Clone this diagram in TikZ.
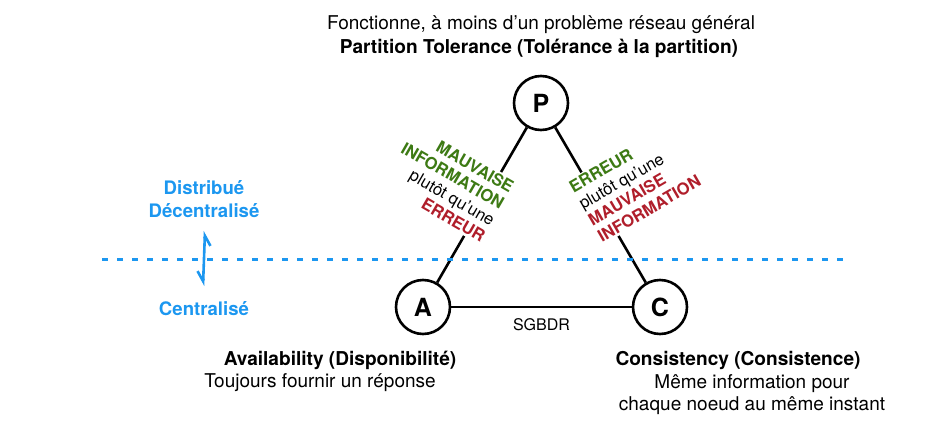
\documentclass[tikz,border=0pt]{standalone}
\usepackage{fontspec}
\setmainfont{TeX Gyre Heros}
\usepackage{xcolor}
\usetikzlibrary{arrows.meta}
\definecolor{SkyBlue}{HTML}{1C97F0}
\definecolor{DarkGreen}{HTML}{3D7A14}
\definecolor{DarkRed}{HTML}{B01E2B}

\begin{document}
\begin{tikzpicture}[x=1pt,y=-1pt,
  vertex/.style={circle,draw,line width=2.6pt,minimum size=54pt,inner sep=0pt,font=\fontsize{25}{25}\selectfont\bfseries},
  edge/.style={line width=2.6pt},
  note/.style={fill=white,inner sep=2pt,font=\fontsize{16.6}{19}\selectfont},
  caption/.style={font=\fontsize{19}{22}\selectfont},
  title/.style={font=\fontsize{19.1}{22}\selectfont\bfseries},
  side/.style={SkyBlue,font=\fontsize{18.6}{23}\selectfont\bfseries}]
  \useasboundingbox (0,0) rectangle (952,439);
  % sommets du triangle CAP
  \node[vertex] (P) at (541,103) {P};
  \node[vertex] (A) at (423,307) {A};
  \node[vertex] (C) at (660,307) {C};
  \draw[edge] (P) -- (A);
  \draw[edge] (P) -- (C);
  \draw[edge] (A) -- (C) node[midway,below=7pt,font=\fontsize{16}{18}\selectfont] (sgbdr) {SGBDR};
  % textes sur les cotes
  \node[note,rotate=-30,anchor=east,align=right] (left note) at (500,214)
    {\textcolor{DarkGreen}{\textbf{MAUVAISE}}\\\textcolor{DarkGreen}{\textbf{INFORMATION}}\\plutôt qu’une\\\textcolor{DarkRed}{\textbf{ERREUR}}};
  \node[note,rotate=30,anchor=west,align=left] (right note) at (583,214)
    {\textcolor{DarkGreen}{\textbf{ERREUR}}\\plutôt qu’une\\\textcolor{DarkRed}{\textbf{MAUVAISE}}\\\textcolor{DarkRed}{\textbf{INFORMATION}}};
  % legendes
  \node[caption] (p text) at (541,25) {Fonctionne, à moins d’un problème réseau général};
  \node[title] (p title) at (539,48) {Partition Tolerance (Tolérance à la partition)};
  \node[title] (a title) at (340,360) {Availability (Disponibilité)};
  \node[caption] (a text) at (320,383) {Toujours fournir un réponse};
  \node[title] (c title) at (738,360) {Consistency (Consistence)};
  \node[caption,align=center] (c text) at (752,395) {Même information pour\\chaque noeud au même instant};
  % frontiere centralise / distribue
  \draw[SkyBlue,line width=3pt,dash pattern=on 6pt off 9pt] (102,259) -- (845,259);
  \node[side,align=center] (dist) at (204,199) {Distribué\\Décentralisé};
  \node[side] (cent) at (204,309) {Centralisé};
  \coordinate (up) at (205,231);
  \coordinate (down) at (203,286);
  \draw[SkyBlue,line width=2.6pt,{Straight Barb[harpoon,swap,length=10pt,width=12pt]}-{Straight Barb[harpoon,swap,length=10pt,width=12pt]}] (down) -- (up);
\end{tikzpicture}
\end{document}
